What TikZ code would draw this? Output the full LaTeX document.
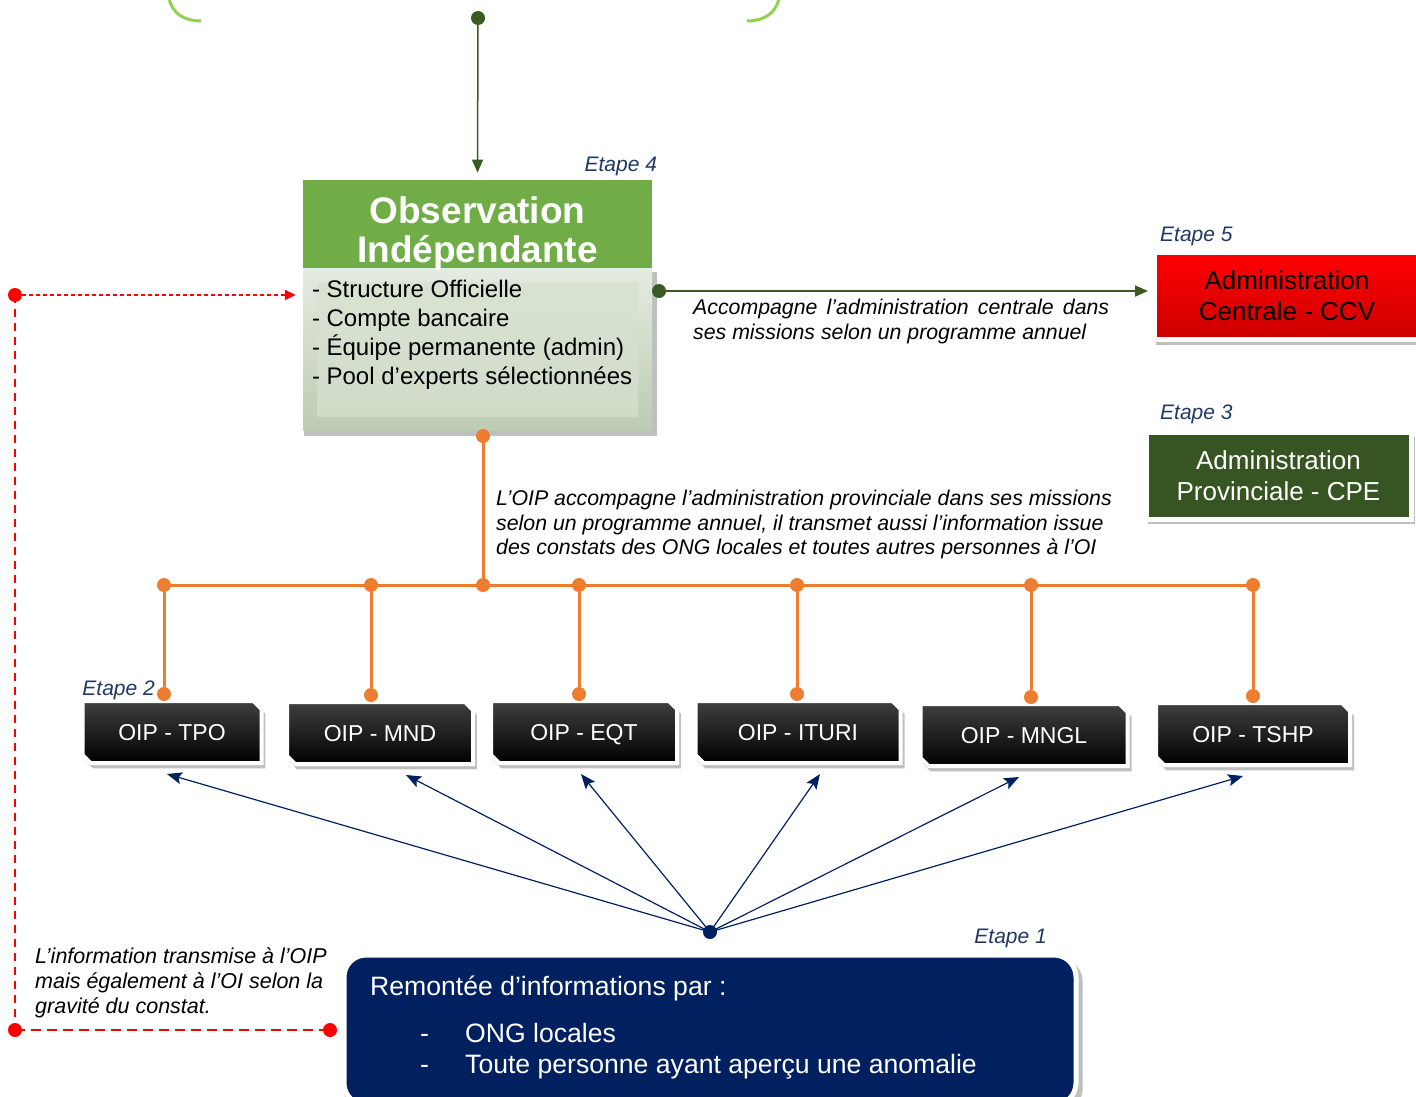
\documentclass[tikz,border=0pt]{standalone}
\usepackage{fontspec}
\setmainfont{Liberation Sans}
\usetikzlibrary{shapes.misc,shapes.geometric,calc,positioning,arrows.meta,shadows}

\definecolor{obsgreen}{HTML}{70AD47}
\definecolor{obslight}{HTML}{E4EBE0}
\definecolor{obsdark}{HTML}{BCCCB2}
\definecolor{obsmid}{HTML}{D3DFCC}
\definecolor{litegreen}{HTML}{92D050}
\definecolor{dkgreen}{HTML}{3A5A24}
\definecolor{orangeline}{HTML}{ED7D31}
\definecolor{navyline}{HTML}{002060}
\definecolor{etapeblue}{HTML}{1F3864}

\begin{document}
\begin{tikzpicture}[x=1pt,y=-1pt,every node/.style={align=center,inner sep=0pt},
  joint/.style={circle,fill=#1,minimum size=14pt,inner sep=0pt},
  etape/.style={font=\fontsize{21}{25}\selectfont\itshape,text=etapeblue},
  note/.style={font=\fontsize{21.3}{24.5}\selectfont\itshape,align=left},
  shade/.style={drop shadow={opacity=0.5,shadow xshift=3pt,shadow yshift=-5pt,shadow scale=1.01}},
  oipbox/.style={chamfered rectangle,chamfered rectangle corners={north east,south west},
    chamfered rectangle xsep=4pt,chamfered rectangle ysep=4pt,draw=white,line width=4pt,
    top color=black!75,bottom color=black,text=white,font=\fontsize{23}{27}\selectfont,
    text height=16.5pt,text depth=0pt,minimum height=62pt,shade},
  adminbox/.style={draw=white,line width=5pt,minimum width=265pt,minimum height=87pt,
    font=\fontsize{26}{31}\selectfont,shade}]
\useasboundingbox (0,0) rectangle (1416,1097);

% top
\draw[litegreen,line width=3pt] (169,-2) .. controls (172,14) and (185,21) .. (201,21);
\draw[litegreen,line width=3pt] (747,21) .. controls (763,21) and (776,14) .. (779,-2);
\node[joint=dkgreen] (TopDot) at (478,18) {};

% Observation Independante
\node[anchor=north,minimum width=349pt,minimum height=162pt,top color=obslight,
  bottom color=obsdark,shade] (ObsBody) at (477.5,268) {};
\node[minimum width=321pt,minimum height=134pt,top color=obsmid!70!obslight,
  bottom color=obsmid!85!obsdark] (ObsInner) at (ObsBody.center) {};
\node[anchor=south,fill=obsgreen,minimum width=349pt,minimum height=88pt] (ObsHead) at (ObsBody.north) {};
\node[text=white,font=\bfseries\fontsize{37}{39}\selectfont] (ObsTitle) at ($(ObsHead.center)+(0,10)$) {Observation\\Indépendante};
\node[anchor=north west,align=left,font=\fontsize{24}{29}\selectfont] (ObsList)
  at ($(ObsBody.north west)+(9,12)$) {- Structure Officielle\\- Compte bancaire\\- Équipe permanente (admin)\\- Pool d’experts sélectionnées};
\node[etape,anchor=base east] (Etape4) at ($(ObsHead.north east)+(5,-8)$) {Etape 4};
\draw[dkgreen,line width=1.5pt,-{Triangle[length=13pt,width=11pt]},shorten >=7pt] (TopDot.center) -- (ObsHead.north);

% administrations
\node[adminbox,top color=red,bottom color=red!80!black] (Ccv) at (1287,296) {Administration\\Centrale - CCV};
\node[etape,anchor=base west] (Etape5) at (1160,241) {Etape 5};
\node[adminbox,fill=dkgreen!95!black,text=white] (Cpe) at (1278.5,475.5) {Administration\\Provinciale - CPE};
\node[etape,anchor=base west] (Etape3) at (1160,419) {Etape 3};

\node[joint=dkgreen] (ObsOut) at (659,291) {};
\draw[dkgreen,line width=2pt,-{Triangle[length=13pt,width=11pt]},shorten >=4pt] (ObsOut.center) -- (ObsOut -| Ccv.west);
\node[note,anchor=north west,text width=416pt,align=justify] (CentralNote) at (693,299)
  {Accompagne l’administration centrale dans ses missions selon un programme annuel};

% OIP
\node[joint=orangeline] (OrTop) at (483,436) {};
\coordinate (BusL) at (164,585);
\coordinate (BusR) at (1253,585);
\draw[orangeline,line width=3pt] (OrTop.center) -- (OrTop |- BusL);
\draw[orangeline,line width=3pt] (BusL) -- (BusR);
\node[joint=orangeline] (OrMid) at (OrTop |- BusL) {};
\node[note,anchor=north west] (ProvNote) at (496,490)
  {L’OIP accompagne l’administration provinciale dans ses missions\\selon un programme annuel, il transmet aussi l’information issue\\des constats des ONG locales et toutes autres personnes à l’OI};

\node[joint=navyline] (Hub) at (710,932) {};
\foreach \nm/\cx/\cy/\w/\dx/\ax in {TPO/172/732/179/164/167,MND/380/733/186/371/406,EQT/584/732/186/579/581,
    ITURI/798/732/205/797/820,MNGL/1024/735/207/1031/1019,TSHP/1253/734/194/1253/1243}{
  \node[oipbox,minimum width=\w pt] (\nm) at (\cx,\cy) {OIP - \nm};
  \node[joint=orangeline] (Up\nm) at (\dx,585) {};
  \node[joint=orangeline] (Dn\nm) at ($(\nm.north -| \dx,0)+(0,-5)$) {};
  \draw[orangeline,line width=3pt] (Up\nm) -- (Dn\nm);
  \draw[navyline,line width=1.2pt,-{Stealth[length=15pt,width=12pt,inset=3pt]}] (Hub.center) -- ($(\nm.south -| \ax,0)+(0,9)$);
}
\node[etape,anchor=base east] (Etape2) at (155,695) {Etape 2};

% Remontee
\node[fill=navyline,draw=white,line width=5pt,rounded corners=22pt,minimum width=732pt,
  minimum height=150pt,shade] (Remontee) at (710,1030) {};
\node[anchor=north west,align=left,text=white,font=\fontsize{26.6}{31}\selectfont] (RemonteeText) at (370,976)
  {Remontée d’informations par :\\[16pt]
   \hspace*{50pt}\makebox[45pt][l]{-}ONG locales\\
   \hspace*{50pt}\makebox[45pt][l]{-}Toute personne ayant aperçu une anomalie};
\node[etape,anchor=base east] (Etape1) at (1047,943) {Etape 1};

% retour vers OI
\node[joint=red] (RedTop) at (15,295) {};
\node[joint=red] (RedBot) at (15,1030) {};
\node[joint=red] (RedEnd) at (330,1030) {};
\draw[red,line width=1.5pt,dash pattern=on 4pt off 3pt,-{Triangle[length=11pt,width=10pt]},shorten >=7pt]
  (RedTop.center) -- (RedTop -| ObsBody.west);
\draw[red,line width=2.5pt,dash pattern=on 8pt off 6pt] (RedTop.center) -- (RedBot.center);
\draw[red,line width=2.5pt,dash pattern=on 10pt off 6pt] (RedBot.center) -- (RedEnd.center);
\node[note,anchor=north west,font=\fontsize{21.5}{25}\selectfont\itshape] (InfoNote) at (35,947)
  {L’information transmise à l’OIP\\mais également à l’OI selon la\\gravité du constat.};
\end{tikzpicture}
\end{document}
